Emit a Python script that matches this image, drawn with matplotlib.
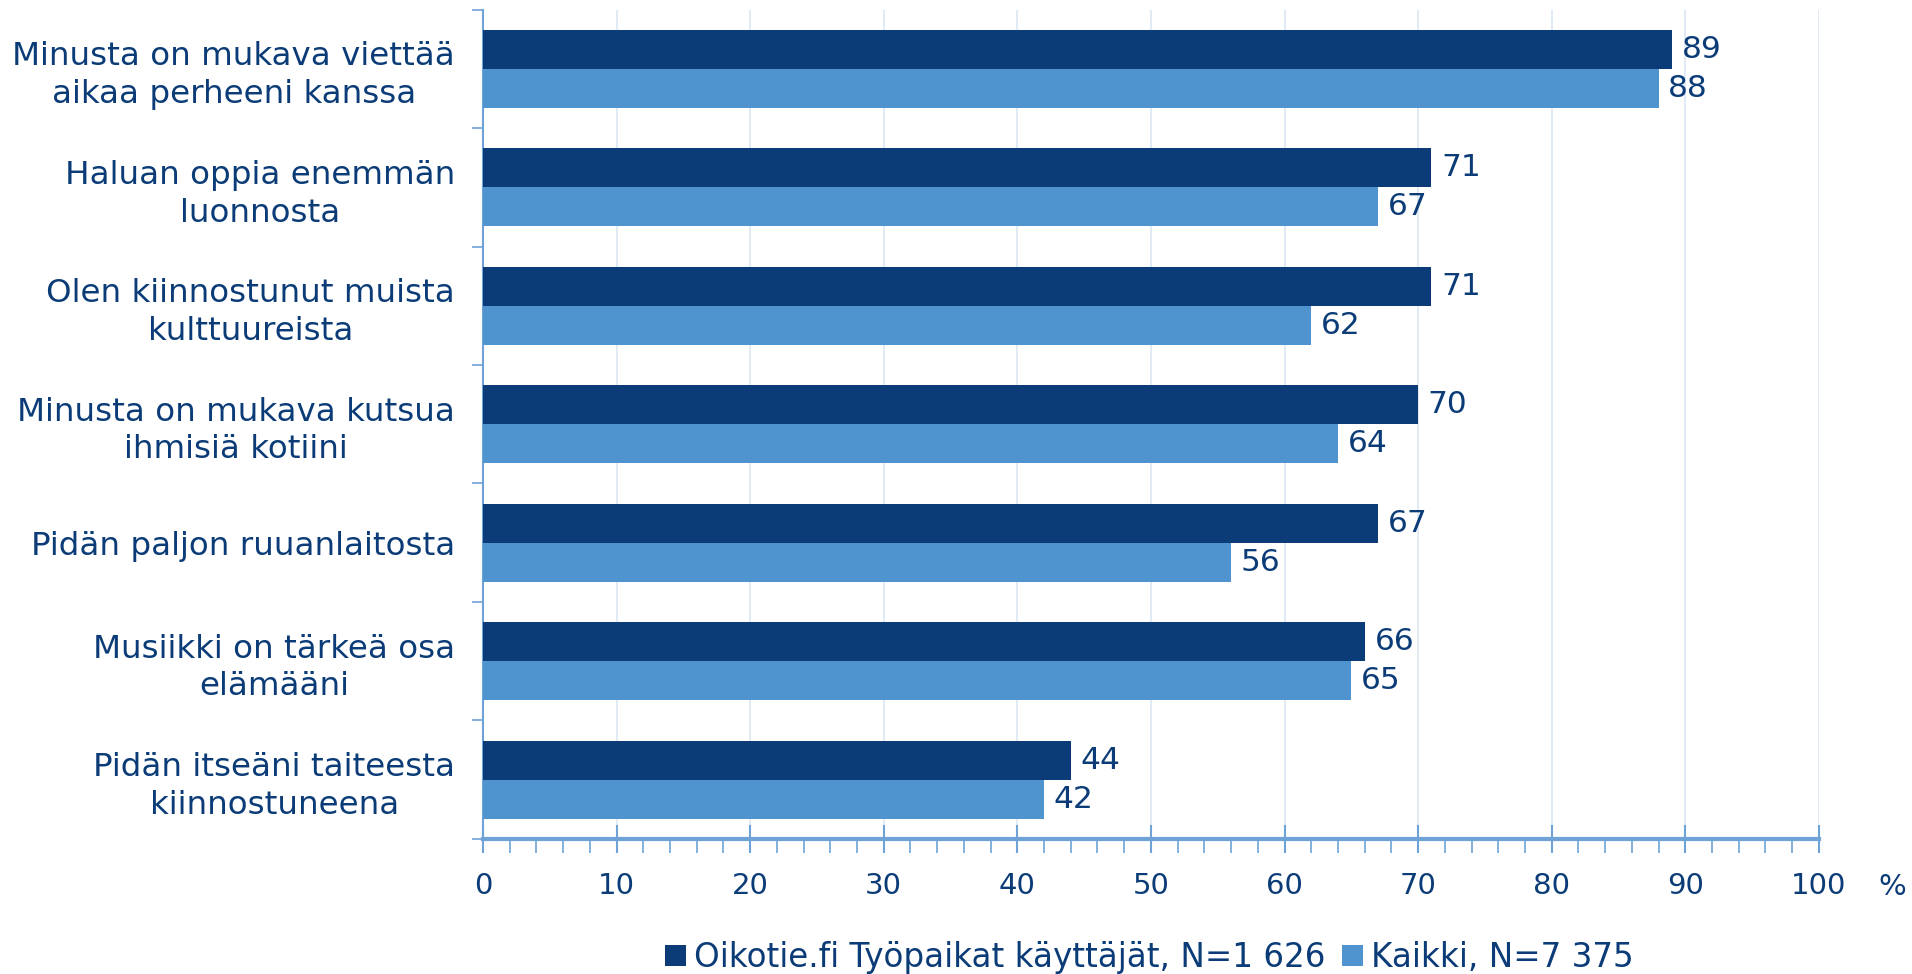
import matplotlib
matplotlib.use("Agg")
from matplotlib import pyplot as plt
from matplotlib.ticker import MultipleLocator, FixedLocator
import numpy as np

categories = [
    "Minusta on mukava viettää\naikaa perheeni kanssa",
    "Haluan oppia enemmän\nluonnosta",
    "Olen kiinnostunut muista\nkulttuureista",
    "Minusta on mukava kutsua\nihmisiä kotiini",
    "Pidän paljon ruuanlaitosta",
    "Musiikki on tärkeä osa\nelämääni",
    "Pidän itseäni taiteesta\nkiinnostuneena",
]
oikotie = [89, 71, 71, 70, 67, 66, 44]
kaikki = [88, 67, 62, 64, 56, 65, 42]
series_names = ["Oikotie.fi Työpaikat käyttäjät, N=1 626", "Kaikki, N=7 375"]

dark = "#0b3c77"
light = "#4f94ce"
text_col = "#0b3c77"
axis_col = "#6fa3d8"
grid_col = "#dbe7f4"

plt.rcParams["font.family"] = ["DejaVu Sans"]

fig = plt.figure(figsize=(19.12, 9.74), dpi=100)
ax = fig.add_axes([0.2526, 0.1388, 0.6987, 0.8512])

y = np.arange(len(categories))
h = 0.33
b1 = ax.barh(y - h / 2, oikotie, height=h, color=dark, zorder=3, label=series_names[0])
b2 = ax.barh(y + h / 2, kaikki, height=h, color=light, zorder=3, label=series_names[1])

for bars, vals in ((b1, oikotie), (b2, kaikki)):
    for bar, v in zip(bars, vals):
        ax.annotate(str(v), (bar.get_width(), bar.get_y() + bar.get_height() / 2),
                    xytext=(7, 0), textcoords="offset points", ha="left", va="center",
                    fontsize=22.5, color=text_col)

ax.set_xlim(0, 100)
ax.set_ylim(len(categories) - 0.5, -0.5)

ax.xaxis.set_major_locator(MultipleLocator(10))
ax.xaxis.set_minor_locator(MultipleLocator(2))
ax.tick_params(axis="x", which="major", direction="inout", length=20, width=1.5,
               color=axis_col, labelsize=21, labelcolor=text_col, pad=14)
ax.tick_params(axis="x", which="minor", direction="out", length=10, width=1.2, color=axis_col)

ax.set_yticks(y)
ax.set_yticklabels(categories, multialignment="center", linespacing=1.28)
ax.yaxis.set_minor_locator(FixedLocator(np.arange(-0.5, len(categories), 1.0)))
ax.tick_params(axis="y", which="major", length=0, labelsize=23.4, labelcolor=text_col, pad=20)
ax.tick_params(axis="y", which="minor", direction="out", length=8, width=1.2, color=axis_col)

for s in ("top", "right"):
    ax.spines[s].set_visible(False)
ax.spines["left"].set_color(axis_col)
ax.spines["left"].set_linewidth(1.5)
ax.spines["bottom"].set_color(axis_col)
ax.spines["bottom"].set_linewidth(3)

ax.grid(axis="x", which="major", color=grid_col, linewidth=1.2, zorder=0)
ax.set_axisbelow(True)

fig.text(0.9895, 0.089, "%", fontsize=21, color=text_col, ha="center", va="center")

leg = fig.legend(loc="center", bbox_to_anchor=(0.601, 0.017), ncol=2, frameon=False,
                 fontsize=23.5, handlelength=0.65, handleheight=0.65, handletextpad=0.25,
                 columnspacing=0.5)
for t in leg.get_texts():
    t.set_color(text_col)

fig.savefig("out.png", dpi=100)
plt.close(fig)
